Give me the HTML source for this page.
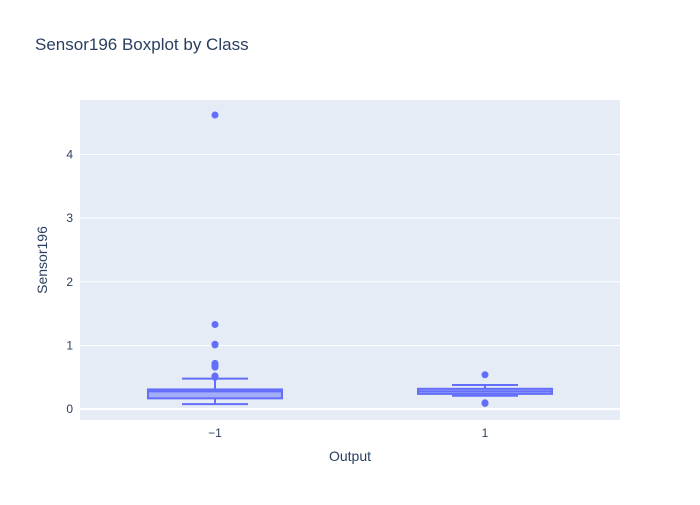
<!DOCTYPE html>
<html><head><meta charset="utf-8"><style>
body{margin:0;background:#fff;font-family:"Liberation Sans",sans-serif}
svg text{font-family:"Liberation Sans",sans-serif;fill:#2a3f5f}
</style></head><body>
<svg id="chart" width="700" height="500">
<rect x="0" y="0" width="700" height="500" fill="#fff"/>
<text x="35" y="50" font-size="17">Sensor196 Boxplot by Class</text>
<rect x="80" y="100" width="540" height="320" fill="#e5ecf6"/>
<g id="grid"></g>
<g id="boxes"></g>
<text x="350" y="461" font-size="14" text-anchor="middle">Output</text>
<text x="47" y="260" font-size="14" text-anchor="middle" transform="rotate(-90 47 260)">Sensor196</text>
</svg>
<script>
const categories=["\u22121","1"];
const q1=[0.17,0.24];
const median=[0.28,0.28];
const q3=[0.31,0.32];
const lowerFence=[0.08,0.21];
const upperFence=[0.48,0.38];
const outliers=[[4.62,1.33,1.02,1.01,0.72,0.69,0.66,0.52,0.5],[0.54,0.1,0.09]];
const yTicks=[0,1,2,3,4];
const yMin=-0.17,yMax=4.855;
const NS="http://www.w3.org/2000/svg";
function y(v){return 420-(v-yMin)/(yMax-yMin)*320;}
function x(i){return 80+(i+0.5)*540/categories.length;}
function mk(t,a,p){const e=document.createElementNS(NS,t);for(const k in a)e.setAttribute(k,a[k]);p.appendChild(e);return e;}
const grid=document.getElementById('grid'),boxes=document.getElementById('boxes');
yTicks.forEach(t=>{
 const l=mk('line',{x1:80,x2:620,y1:y(t),y2:y(t),stroke:'#fff','stroke-width':t===0?2:1},grid);
 
 
 const tx=mk('text',{x:73,y:y(t)+4,'font-size':12,'text-anchor':'end'},grid);tx.textContent=t;
 
 
});
categories.forEach((c,i)=>{
 const cx=x(i),hw=67,ww=33;
 const g=mk('g',{},boxes);
 
 
 const st={stroke:'#636efa','stroke-width':2};
 mk('line',Object.assign({x1:cx,x2:cx,y1:y(upperFence[i]),y2:y(q3[i])},st),g);
 mk('line',Object.assign({x1:cx,x2:cx,y1:y(q1[i]),y2:y(lowerFence[i])},st),g);
 mk('line',Object.assign({x1:cx-ww,x2:cx+ww,y1:y(upperFence[i]),y2:y(upperFence[i])},st),g);
 mk('line',Object.assign({x1:cx-ww,x2:cx+ww,y1:y(lowerFence[i]),y2:y(lowerFence[i])},st),g);
 mk('rect',Object.assign({x:cx-hw,y:y(q3[i]),width:2*hw,height:y(q1[i])-y(q3[i]),fill:'rgba(99,110,250,0.5)'},st),g);
 mk('line',Object.assign({x1:cx-hw,x2:cx+hw,y1:y(median[i]),y2:y(median[i])},st),g);
 outliers[i].forEach(v=>{const p=mk('circle',{cx:cx,cy:y(v),r:3.5,fill:'#636efa'},g);
  
  });
 const tx=mk('text',{x:cx,y:437,'font-size':12,'text-anchor':'middle'},boxes);tx.textContent=c;
 
 
});
</script>
</body></html>
